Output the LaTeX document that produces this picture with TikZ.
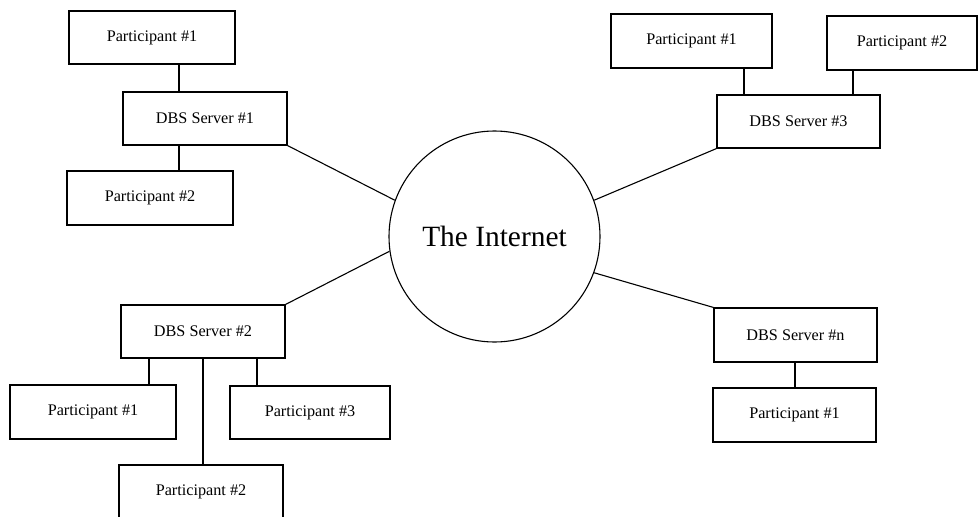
\documentclass[tikz,border=0pt]{standalone}
\usepackage{fontspec}
\setmainfont{Liberation Serif}
\begin{document}
\begin{tikzpicture}[x=1pt,y=-1pt,
  box/.style={draw, line width=1.1pt, inner sep=0pt, font=\fontsize{16.2}{19}\selectfont},
  conn/.style={line width=1.1pt}]
\clip (0,0) rectangle (978,517);
\useasboundingbox (0,0) rectangle (978,517);
% Internet
\node[draw, circle, line width=1.1pt, minimum size=211pt, inner sep=0pt, font=\fontsize{29.4}{34}\selectfont] (inet) at (494.5,236.5) {The Internet};
% Server 1 group
\node[box, minimum width=166pt, minimum height=53pt] (lp1) at (152,37.5) {Participant \#1};
\node[box, minimum width=164pt, minimum height=53pt] (dbs1) at (205,118.5) {DBS Server \#1};
\node[box, minimum width=166pt, minimum height=54pt] (lp2) at (150,198) {Participant \#2};
% Server 3 group
\node[box, minimum width=161pt, minimum height=54pt] (rp1) at (691.5,41) {Participant \#1};
\node[box, minimum width=150pt, minimum height=54pt] (rp2) at (902,43) {Participant \#2};
\node[box, minimum width=163pt, minimum height=53pt] (dbs3) at (798.5,121.5) {DBS Server \#3};
% Server 2 group
\node[box, minimum width=164pt, minimum height=53pt] (dbs2) at (203,331.5) {DBS Server \#2};
\node[box, minimum width=166pt, minimum height=54pt] (bp1) at (93,412) {Participant \#1};
\node[box, minimum width=160pt, minimum height=53pt] (bp3) at (310,412.5) {Participant \#3};
\node[box, minimum width=164pt, minimum height=54pt] (bp2) at (201,492) {Participant \#2};
% Server n group
\node[box, minimum width=163pt, minimum height=54pt] (dbsn) at (795.5,335) {DBS Server \#n};
\node[box, minimum width=163pt, minimum height=54pt] (np1) at (794.5,415) {Participant \#1};
% vertical connectors
\draw[conn] (lp1.south -| 179,0) -- (dbs1.north -| 179,0);
\draw[conn] (dbs1.south -| 179,0) -- (lp2.north -| 179,0);
\draw[conn] (rp1.south -| 744,0) -- (dbs3.north -| 744,0);
\draw[conn] (rp2.south -| 853,0) -- (dbs3.north -| 853,0);
\draw[conn] (dbs2.south -| 149,0) -- (bp1.north -| 149,0);
\draw[conn] (dbs2.south -| 203,0) -- (bp2.north -| 203,0);
\draw[conn] (dbs2.south -| 257,0) -- (bp3.north -| 257,0);
\draw[conn] (dbsn.south -| 795,0) -- (np1.north -| 795,0);
% links to the Internet
\draw[conn] (dbs1.south east) -- (inet.160);
\draw[conn] (dbs3.south west) -- (inet.20);
\draw[conn] (dbs2.north east) -- (inet.188);
\draw[conn] (dbsn.north west) -- (inet.340);
\end{tikzpicture}
\end{document}
